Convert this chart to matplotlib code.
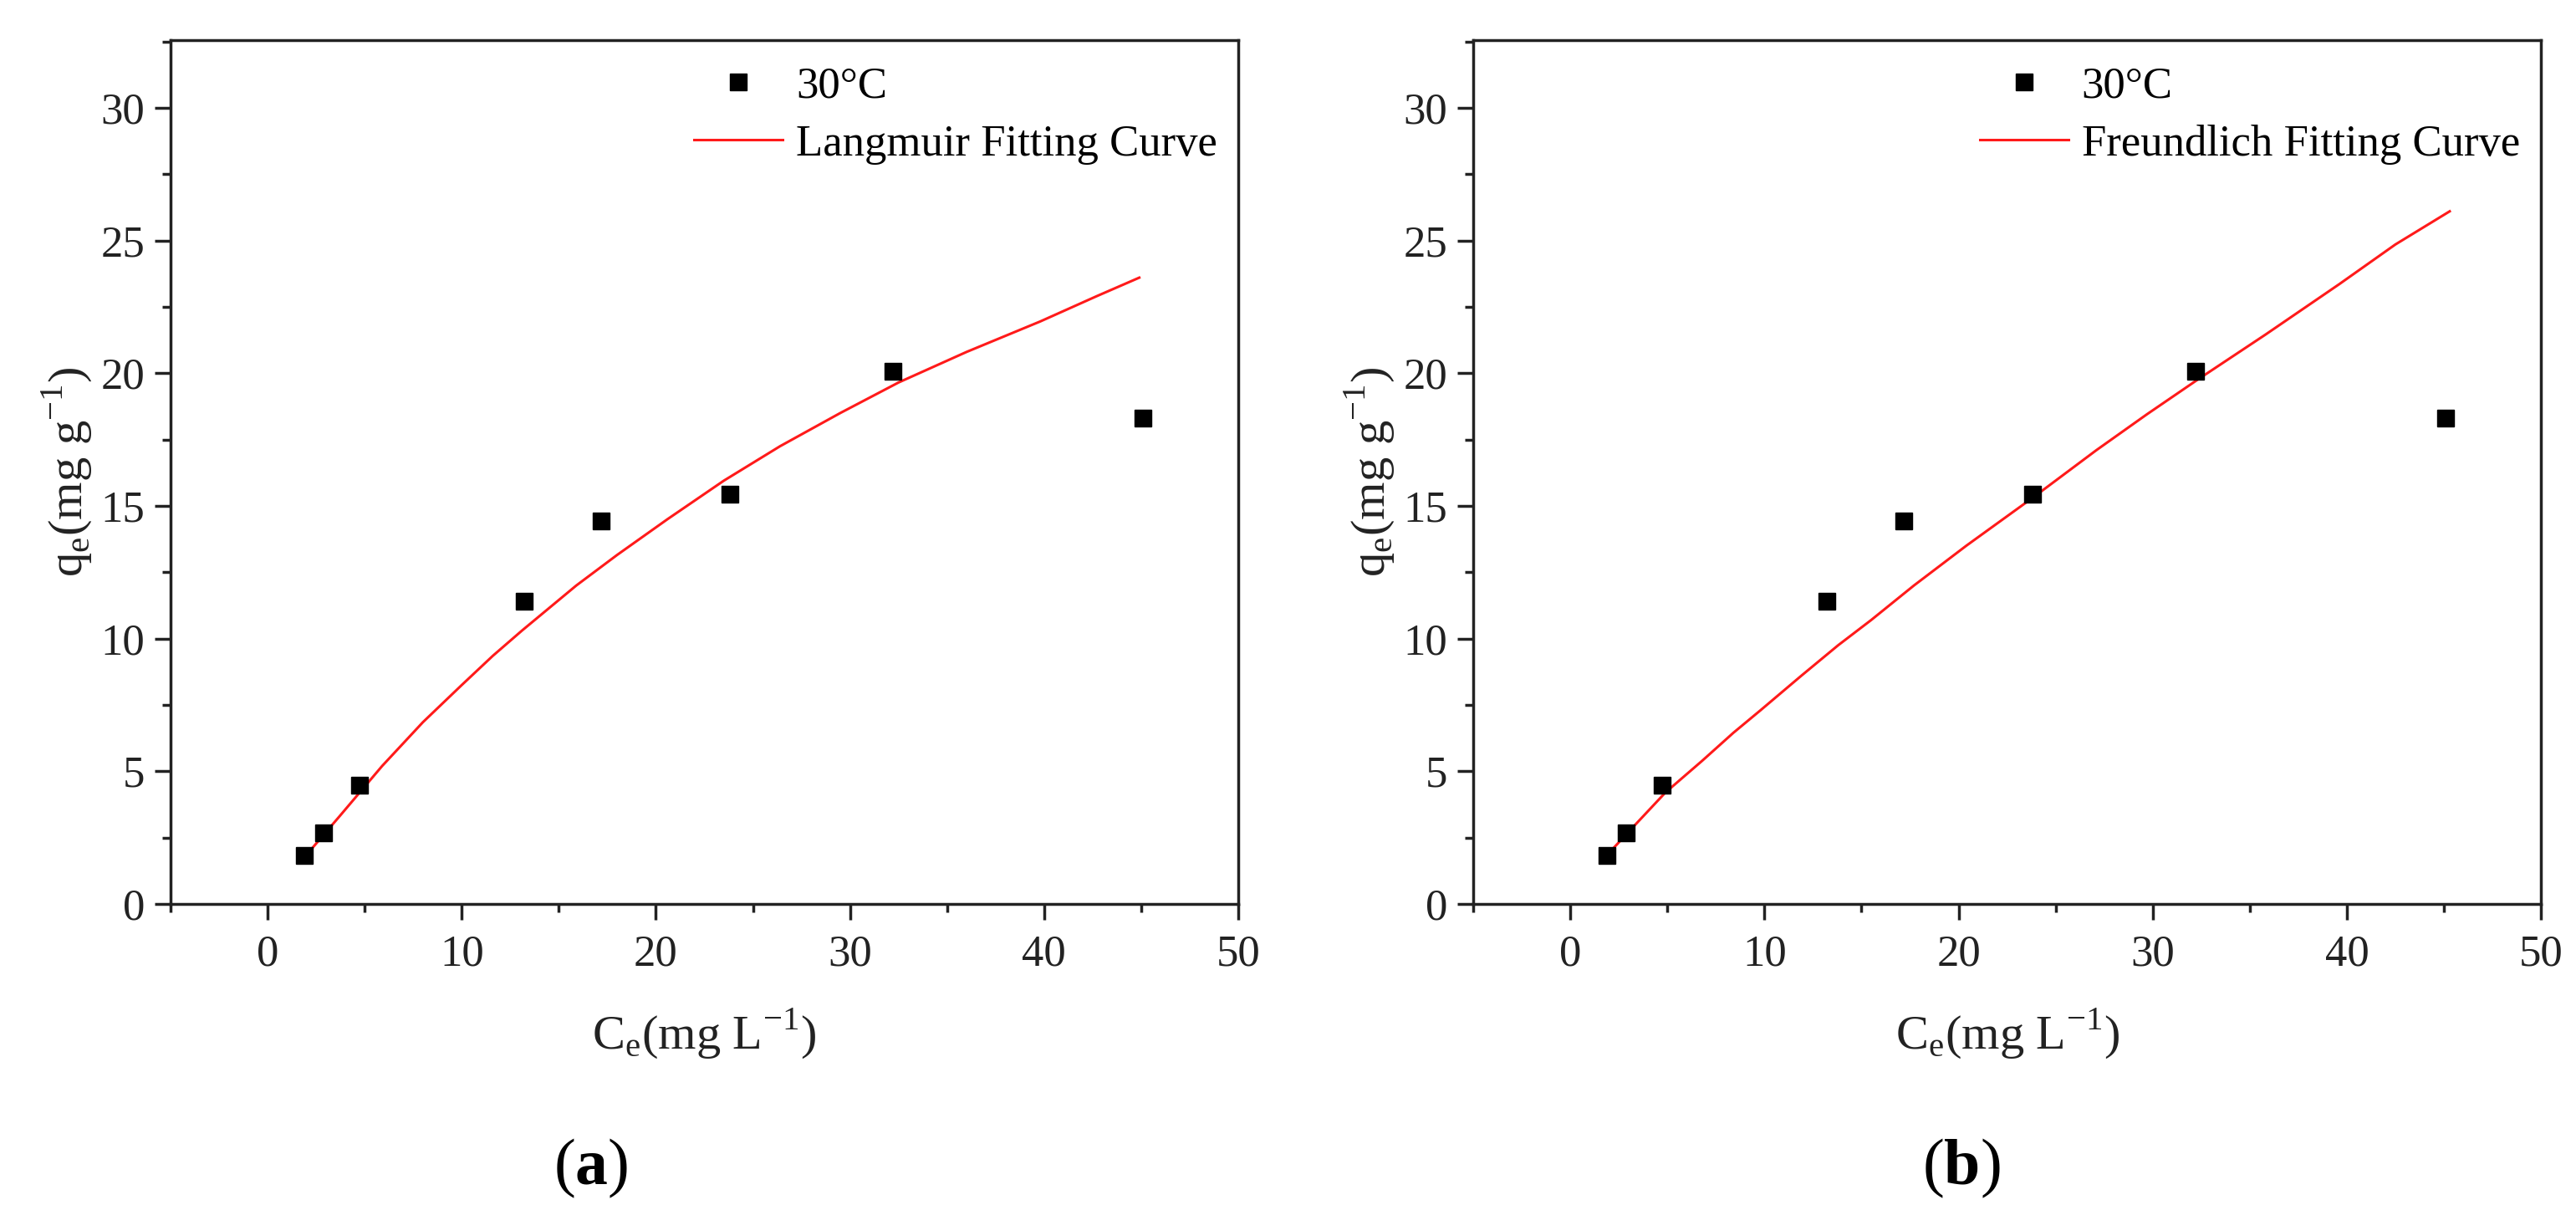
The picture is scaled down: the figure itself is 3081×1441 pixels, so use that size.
import matplotlib
matplotlib.use('Agg')
import matplotlib.pyplot as plt
from matplotlib.ticker import MultipleLocator

# measured adsorption data (30 C)
ce = [1.9, 2.9, 4.75, 13.2, 17.2, 23.8, 32.2, 45.1]
qe = [1.82, 2.69, 4.46, 11.41, 14.42, 15.45, 20.08, 18.32]

# Langmuir fitting curve
lang_x = [2.0, 3.7, 5.9, 8.0, 10.0, 11.6, 13.1, 15.9, 18.0, 20.6, 23.5,
          26.4, 29.5, 32.5, 36.0, 39.8, 42.7, 44.9]
lang_y = [1.85, 3.3, 5.2, 6.85, 8.25, 9.35, 10.3, 12.0, 13.15, 14.5, 15.95,
          17.25, 18.5, 19.65, 20.8, 21.95, 22.9, 23.6]

# Freundlich fitting curve
freu_x = [1.9, 3.3, 4.9, 6.8, 8.4, 9.8, 11.9, 13.8, 15.5, 17.7, 20.4, 23.9,
          27.1, 29.7, 32.3, 35.8, 39.6, 42.5, 45.3]
freu_y = [1.85, 2.95, 4.2, 5.4, 6.45, 7.3, 8.6, 9.75, 10.7, 12.0, 13.5, 15.35,
          17.1, 18.45, 19.75, 21.45, 23.35, 24.85, 26.1]

panels = [
    ('Langmuir Fitting Curve', lang_x, lang_y, 'a'),
    ('Freundlich Fitting Curve', freu_x, freu_y, 'b'),
]

plt.rcParams['font.family'] = ['Liberation Serif', 'DejaVu Serif']
plt.rcParams['mathtext.fontset'] = 'custom'
plt.rcParams['mathtext.rm'] = 'Liberation Serif'
plt.rcParams['mathtext.bf'] = 'Liberation Serif:bold'

fig = plt.figure(figsize=(30.81, 14.41), dpi=100)
lefts = [0.0662, 0.5719]
tag_x = [0.2295, 0.7614]

for (fit_label, fx, fy, tag), left, tx in zip(panels, lefts, tag_x):
    ax = fig.add_axes([left, 0.2498, 0.4145, 0.7169])
    ax.plot(ce, qe, 's', color='black', markersize=15, label='30°C', zorder=3)
    ax.plot(fx, fy, '-', color='#ff1a1a', linewidth=2.2, label=fit_label)

    ax.set_xlim(-5, 50)
    ax.set_ylim(0, 32.55)
    ax.xaxis.set_major_locator(MultipleLocator(10))
    ax.xaxis.set_minor_locator(MultipleLocator(5))
    ax.yaxis.set_major_locator(MultipleLocator(5))
    ax.yaxis.set_minor_locator(MultipleLocator(2.5))
    ax.tick_params(which='major', direction='out', length=14, width=2.5,
                   labelsize=38, color='#222222', labelcolor='#222222')
    ax.tick_params(axis='x', which='major', pad=12)
    ax.tick_params(axis='y', which='major', pad=8)
    ax.tick_params(which='minor', direction='out', length=7, width=2.5,
                   color='#222222')
    for sp in ax.spines.values():
        sp.set_linewidth(2.5)
        sp.set_color('#222222')

    ax.set_xlabel('C$_{\\mathregular{e}}$(mg L$^{\\mathregular{\u22121}}$)',
                  fontsize=42, color='#222222', labelpad=28)
    ax.set_ylabel('q$_{\\mathregular{e}}$(mg g$^{\\mathregular{\u22121}}$)',
                  fontsize=42, color='#222222', labelpad=6)

    ax.legend(loc='upper right', bbox_to_anchor=(1.005, 1.0), frameon=False,
              fontsize=38, handlelength=2.0, handletextpad=0.3,
              labelspacing=0.4, borderaxespad=0.2)

    fig.text(tx, 0.030, '($\\mathbf{' + tag + '}$)', ha='center',
             va='center', fontsize=56)

fig.savefig('out.png', dpi=100)
